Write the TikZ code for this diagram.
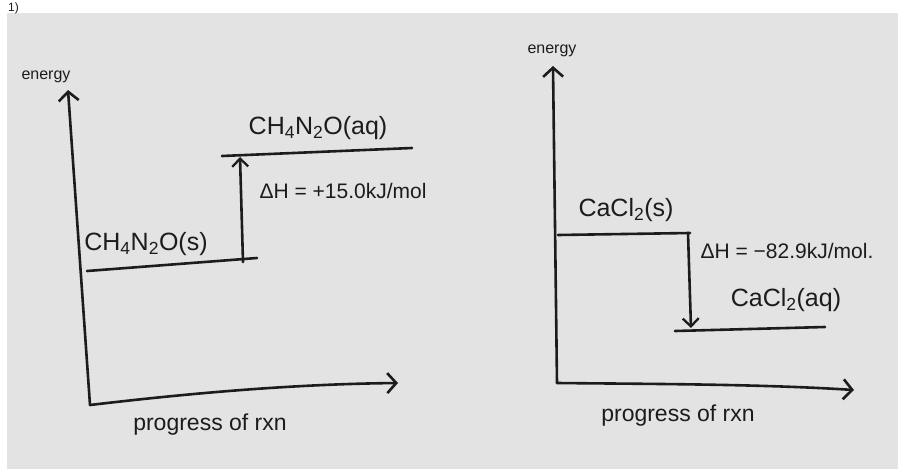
\documentclass[tikz,border=0pt]{standalone}
\usepackage{fontspec}
\setmainfont{Liberation Sans}
\usetikzlibrary{arrows.meta}
\definecolor{paper}{HTML}{E3E3E3}
\definecolor{ink}{HTML}{1C1C1C}
\tikzset{
  pen/.style={draw=ink, line width=2.6pt, line cap=round, line join=round},
  axisarrow/.style={pen, -{Straight Barb[length=9pt,width=20pt,line width=2.6pt]}},
  harrow/.style={pen, -{Straight Barb[length=8pt,width=16pt,line width=2.3pt]}},
  lbl/.style={text=ink, inner sep=0pt},
  species/.style={lbl, font=\fontsize{25}{28}\selectfont},
  dh/.style={lbl, font=\fontsize{21}{24}\selectfont},
  axlbl/.style={lbl, font=\fontsize{23}{26}\selectfont},
  enlbl/.style={lbl, font=\fontsize{16}{18}\selectfont},
}
\begin{document}
\begin{tikzpicture}[x=1pt, y=-1pt]
\useasboundingbox (0,0) rectangle (898,469);
\fill[white] (0,0) rectangle (898,469);
\fill[paper] (7,13) rectangle (898,469);
\node[lbl, anchor=base west, font=\fontsize{12}{13}\selectfont] (num) at (8,11) {1)};

% ---------- left diagram ----------
\coordinate (LO) at (90,405);
\coordinate (LYtip) at (68,90);
\coordinate (LXtip) at (398,383);
\draw[axisarrow] (LO) -- (LYtip);
\draw[axisarrow] (LO) .. controls (200,392) and (300,384) .. (LXtip);
\node[enlbl] (Lenergy) at (46,77) {energy};
\node[axlbl] (Lprog) at (210,425) {progress of rxn};

\coordinate (Ls1) at (87,271);
\coordinate (Ls2) at (257,258);
\draw[pen] (Ls1) -- (Ls2);
\node[species] (Lsolid) at (146,244) {CH\textsubscript{4}N\textsubscript{2}O(s)};

\coordinate (La1) at (222,156);
\coordinate (La2) at (412,148);
\draw[pen] (La1) -- (La2);
\node[species] (Laq) at (318,128) {CH\textsubscript{4}N\textsubscript{2}O(aq)};

\coordinate (Lup0) at (243,262);
\coordinate (Lup1) at (240,157);
\draw[harrow] (Lup0) -- (Lup1);
\node[dh] (LdH) at (343,191) {ΔH = +15.0kJ/mol};

% ---------- right diagram ----------
\coordinate (RO) at (557,383);
\coordinate (RYtip) at (553,66);
\coordinate (RXtip) at (854,390);
\draw[axisarrow] (RO) -- (RYtip);
\draw[axisarrow] (RO) .. controls (650,384) and (760,384) .. (RXtip);
\node[enlbl] (Renergy) at (552,51) {energy};
\node[axlbl] (Rprog) at (678,416) {progress of rxn};

\coordinate (Rs1) at (558,235);
\coordinate (Rs2) at (690,233);
\draw[pen] (Rs1) -- (Rs2);
\node[species] (Rsolid) at (626,210) {CaCl\textsubscript{2}(s)};

\coordinate (Ra1) at (675,331);
\coordinate (Ra2) at (825,327);
\draw[pen] (Ra1) -- (Ra2);
\node[species] (Raq) at (786,300) {CaCl\textsubscript{2}(aq)};

\coordinate (Rdn0) at (688,233);
\coordinate (Rdn1) at (691,328);
\draw[harrow] (Rdn0) -- (Rdn1);
\node[dh] (RdH) at (787,251) {ΔH = −82.9kJ/mol.};
\end{tikzpicture}
\end{document}
